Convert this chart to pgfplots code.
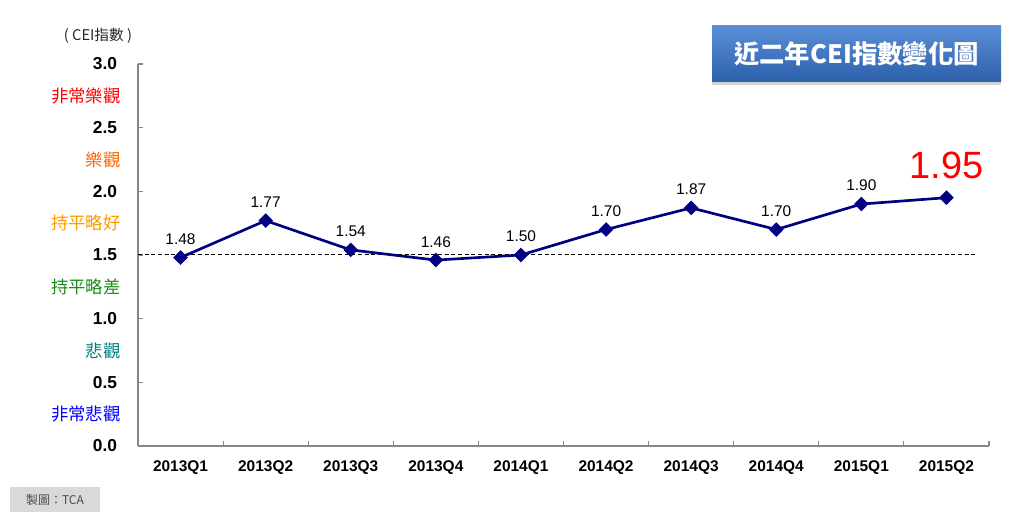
\documentclass[border=0pt]{standalone}
\usepackage{fontspec}
\setmainfont{Liberation Sans}
\newfontfamily\cjk{Noto Sans CJK TC}
\usepackage{pgfplots}
\pgfplotsset{compat=1.18}
\usetikzlibrary{shadows}

\definecolor{navyline}{HTML}{000080}
\definecolor{axisgray}{HTML}{868686}
\definecolor{cVeryGood}{HTML}{FF0000}
\definecolor{cGood}{HTML}{FF6600}
\definecolor{cFairGood}{HTML}{FF9900}
\definecolor{cFairBad}{HTML}{1A8A1A}
\definecolor{cBad}{HTML}{008080}
\definecolor{cVeryBad}{HTML}{0000FF}
\definecolor{boxtop}{HTML}{5A90D8}
\definecolor{boxbot}{HTML}{2C5FAA}

\begin{document}
\begin{tikzpicture}[x=0.75pt,y=0.75pt]
\path (0,0) rectangle (1020,524);

\begin{axis}[
    at={(103.5pt,58.5pt)}, anchor=south west,
    scale only axis, width=638.25pt, height=286.5pt,
    xmin=-0.5, xmax=9.5, ymin=0, ymax=3,
    axis lines*=left,
    axis line style={draw=axisgray, line width=0.9pt},
    clip=false,
    xtick={0,...,9},
    xticklabels={2013Q1,2013Q2,2013Q3,2013Q4,2014Q1,2014Q2,2014Q3,2014Q4,2015Q1,2015Q2},
    major x tick style={draw=none},
    minor xtick={-0.5,0.5,1.5,2.5,3.5,4.5,5.5,6.5,7.5,8.5,9.5},
    minor x tick style={draw=axisgray, line width=0.8pt},
    minor tick length=4pt,
    major tick length=4pt,
    xticklabel style={font=\fontsize{11.6}{13}\selectfont\bfseries, inner sep=0pt, anchor=north, yshift=-10.5pt},
    ytick={0,0.5,...,3},
    y tick style={draw=axisgray, line width=0.8pt},
    yticklabel style={font=\fontsize{13}{15}\selectfont\bfseries, inner sep=0pt, anchor=east, xshift=-15.5pt,
        /pgf/number format/fixed, /pgf/number format/fixed zerofill,
        /pgf/number format/precision=1, /pgf/number format/assume math mode=true},
    extra y ticks={0.25,0.75,1.25,1.75,2.25,2.75},
    extra y tick labels={{\color{cVeryBad}非常悲觀},{\color{cBad}悲觀},{\color{cFairBad}持平略差},{\color{cFairGood}持平略好},{\color{cGood}樂觀},{\color{cVeryGood}非常樂觀}},
    extra y tick style={major tick length=0pt, yticklabel style={font=\cjk\fontsize{13}{15}\selectfont, xshift=2.5pt}},
    every node near coord/.append style={/pgf/number format/fixed, /pgf/number format/fixed zerofill,
        /pgf/number format/precision=2, /pgf/number format/assume math mode=true},
]
% reference line at 1.5
\addplot[black, line width=0.75pt, dash pattern=on 3pt off 2pt] coordinates {(-0.5,1.5) (9.33,1.5)};

\addplot[navyline, line width=2pt, mark=square*, mark size=3.6pt,
    mark options={solid, rotate=45, fill=navyline, draw=navyline, line width=0.5pt}] coordinates {
  (0,1.48) (1,1.77) (2,1.54) (3,1.46) (4,1.50)
  (5,1.70) (6,1.87) (7,1.70) (8,1.90) (9,1.95)
};

\addplot[draw=none, mark=none, nodes near coords,
    nodes near coords style={font=\fontsize{11.6}{13}\selectfont, black, anchor=south, inner sep=0pt, yshift=9.5pt}] coordinates {
  (0,1.48) (1,1.77) (2,1.54) (3,1.46) (4,1.50)
  (5,1.70) (6,1.87) (7,1.70) (8,1.90)
};

\addplot[draw=none, mark=none, nodes near coords,
    nodes near coords style={font=\fontsize{28.5}{30}\selectfont, red, anchor=south, inner sep=0pt, yshift=14pt}] coordinates {
  (9,1.95)
};
\end{axis}

% unit caption
\node[font=\cjk\fontsize{11}{13}\selectfont, text=black!85, inner sep=0pt] at (98,488) {( CEI指數 )};

% title box
\node[draw=none, top color=boxtop, bottom color=boxbot, minimum width=216.75pt, minimum height=42pt,
      drop shadow={shadow xshift=0pt, shadow yshift=-2pt, opacity=0.35},
      font=\cjk\fontsize{19}{22}\selectfont\bfseries, text=white, inner sep=0pt] at (856.5,470) {近二年CEI指數變化圖};

% source box
\node[fill=black!15, minimum width=67.5pt, minimum height=18.75pt, inner sep=0pt,
      font=\cjk\fontsize{9}{10}\selectfont, text=black!70] at (55,24.5) {製圖：TCA};
\end{tikzpicture}
\end{document}
